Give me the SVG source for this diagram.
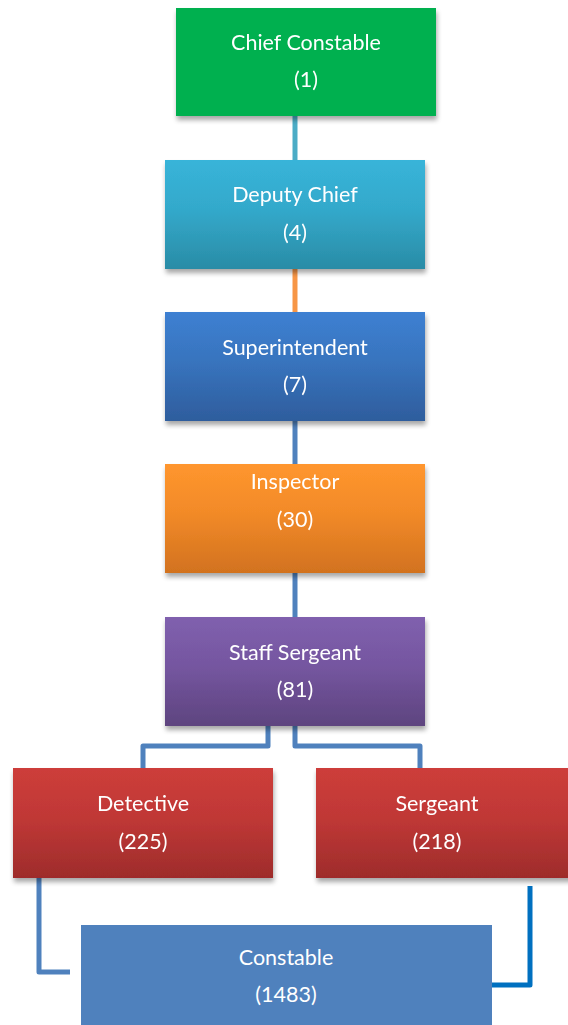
<svg xmlns="http://www.w3.org/2000/svg" width="568" height="1025" viewBox="0 0 568 1025">
<defs>
<filter id="sh" x="-10%" y="-10%" width="120%" height="130%">
<feGaussianBlur in="SourceAlpha" stdDeviation="2.5"/>
<feOffset dx="1" dy="4" result="b"/>
<feComponentTransfer><feFuncA type="linear" slope="0.35"/></feComponentTransfer>
<feMerge><feMergeNode/><feMergeNode in="SourceGraphic"/></feMerge>
</filter>
<linearGradient id="gDep" x1="0" y1="0" x2="0" y2="1"><stop offset="0" stop-color="#38B4D9"/><stop offset="0.45" stop-color="#33A9CB"/><stop offset="1" stop-color="#2A8CA6"/></linearGradient>
<linearGradient id="gSup" x1="0" y1="0" x2="0" y2="1"><stop offset="0" stop-color="#3D80D2"/><stop offset="0.45" stop-color="#3874BE"/><stop offset="1" stop-color="#2E5D9D"/></linearGradient>
<linearGradient id="gIns" x1="0" y1="0" x2="0" y2="1"><stop offset="0" stop-color="#FF962E"/><stop offset="0.45" stop-color="#F28A28"/><stop offset="1" stop-color="#D2721F"/></linearGradient>
<linearGradient id="gStf" x1="0" y1="0" x2="0" y2="1"><stop offset="0" stop-color="#8060AE"/><stop offset="0.45" stop-color="#7556A0"/><stop offset="1" stop-color="#5E447F"/></linearGradient>
<linearGradient id="gRed" x1="0" y1="0" x2="0" y2="1"><stop offset="0" stop-color="#CD3D3A"/><stop offset="0.45" stop-color="#C03836"/><stop offset="1" stop-color="#9E2C2B"/></linearGradient>
</defs>
<style>
.t{font-family:"Lato","Open Sans","Liberation Sans",sans-serif;font-size:21.5px;fill:#FFFFFF;text-anchor:middle;dominant-baseline:central}
.c{fill:none;stroke-width:5;stroke-linejoin:round}
.box{filter:url(#sh)}
</style>
<g id="connectors">
<line class="c" x1="295" y1="114" x2="295" y2="162" stroke="#4BACC6"/>
<line class="c" x1="295" y1="267" x2="295" y2="314" stroke="#F79646"/>
<line class="c" x1="295" y1="419" x2="295" y2="467" stroke="#4F81BD"/>
<line class="c" x1="295" y1="571" x2="295" y2="619" stroke="#4F81BD"/>
<polyline class="c" points="268,724 268,746 143,746 143,770" stroke="#4F81BD"/>
<polyline class="c" points="295,724 295,746 420,746 420,770" stroke="#4F81BD"/>
<polyline class="c" points="39,876 39,972 70,972" stroke="#4F81BD"/>
<polyline class="c" points="530,886 530,985 492,985" stroke="#0070C0"/>
</g>
<g id="chief-constable" class="box">
<rect x="176" y="8" width="260" height="108" fill="#00B050"/>
<text class="t" x="306" y="42">Chief Constable</text>
<text class="t" x="306" y="79">(1)</text>
</g>
<g id="deputy-chief" class="box">
<rect x="165" y="160" width="260" height="109" fill="url(#gDep)"/>
<text class="t" x="295" y="194">Deputy Chief</text>
<text class="t" x="295" y="232">(4)</text>
</g>
<g id="superintendent" class="box">
<rect x="165" y="312" width="260" height="109" fill="url(#gSup)"/>
<text class="t" x="295" y="347">Superintendent</text>
<text class="t" x="295" y="384">(7)</text>
</g>
<g id="inspector" class="box">
<rect x="165" y="464" width="260" height="109" fill="url(#gIns)"/>
<text class="t" x="295" y="481">Inspector</text>
<text class="t" x="295" y="519">(30)</text>
</g>
<g id="staff-sergeant" class="box">
<rect x="165" y="617" width="260" height="109" fill="url(#gStf)"/>
<text class="t" x="295" y="652">Staff Sergeant</text>
<text class="t" x="295" y="689">(81)</text>
</g>
<g id="detective" class="box">
<rect x="13" y="768" width="260" height="110" fill="url(#gRed)"/>
<text class="t" x="143" y="803">Detective</text>
<text class="t" x="143" y="841">(225)</text>
</g>
<g id="sergeant" class="box">
<rect x="316" y="768" width="260" height="110" fill="url(#gRed)"/>
<text class="t" x="437" y="803">Sergeant</text>
<text class="t" x="437" y="841">(218)</text>
</g>
<g id="constable">
<rect x="81" y="925" width="411" height="100" fill="#4F81BD"/>
<text class="t" x="286" y="957">Constable</text>
<text class="t" x="286" y="994">(1483)</text>
</g>
</svg>
